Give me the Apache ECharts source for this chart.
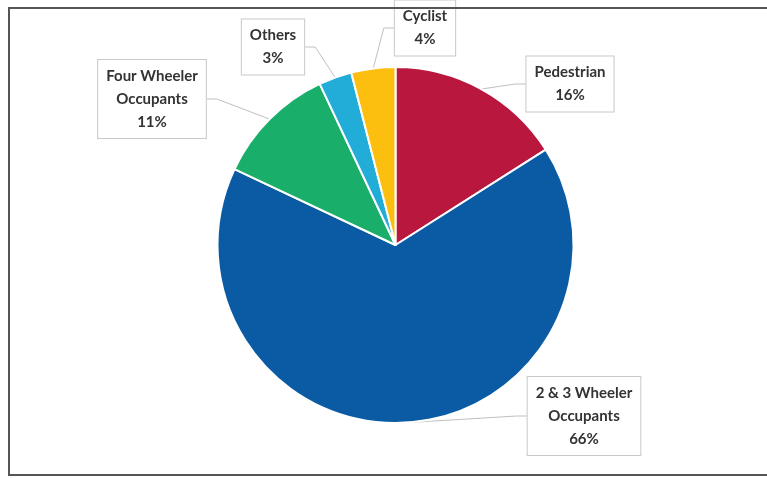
<!DOCTYPE html>
<html>
<head>
<meta charset="utf-8">
<script src="https://cdn.jsdelivr.net/npm/echarts@6/dist/echarts.min.js"></script>
<style>
html,body{margin:0;padding:0;background:#fff;}
#chart{width:767px;height:478px;}
</style>
</head>
<body>
<div id="chart"></div>
<script>
// Data
const categories = ['Pedestrian', '2 & 3 Wheeler\nOccupants', 'Four Wheeler\nOccupants', 'Others', 'Cyclist'];
const shares = [16, 66, 11, 3, 4];

// Styling (kept separate from data)
const colors = ['#BA173F', '#0A5BA4', '#19AF6B', '#22ACD8', '#FDBF0F'];
const labelCenters = [[570, 84], [584, 416], [152, 99], [273, 47], [425, 28]];

const chart = echarts.init(document.getElementById('chart'), null, {renderer: 'canvas'});

chart.setOption({
  backgroundColor: '#ffffff',
  animation: false,
  color: colors,
  graphic: [{
    type: 'rect',
    shape: {x: 9, y: 8, width: 775, height: 467},
    style: {fill: 'none', stroke: '#555555', lineWidth: 2},
    silent: true,
    z: 10
  }],
  series: [{
    type: 'pie',
    center: [395.5, 245],
    radius: [0, 178],
    startAngle: 90,
    clockwise: true,
    avoidLabelOverlap: false,
    itemStyle: {borderColor: '#ffffff', borderWidth: 2},
    label: {
      show: true,
      position: 'outside',
      formatter: function (p) { return p.name + '\n' + p.value + '%'; },
      fontFamily: 'Lato, "Open Sans", sans-serif',
      fontWeight: 'bold',
      fontSize: 15,
      lineHeight: 23,
      color: '#333333',
      align: 'center',
      backgroundColor: '#ffffff',
      borderColor: '#c8c8c8',
      borderWidth: 1,
      padding: [5, 8, 4, 8]
    },
    labelLine: {
      show: true,
      length: 10,
      length2: 10,
      lineStyle: {color: '#c0c0c0', width: 1}
    },
    labelLayout: function (params) {
      const c = labelCenters[params.dataIndex];
      return {x: c[0], y: c[1], align: 'center', verticalAlign: 'middle'};
    },
    emphasis: {disabled: true},
    data: categories.map(function (name, i) { return {name: name, value: shares[i]}; })
  }]
});
</script>
</body>
</html>
